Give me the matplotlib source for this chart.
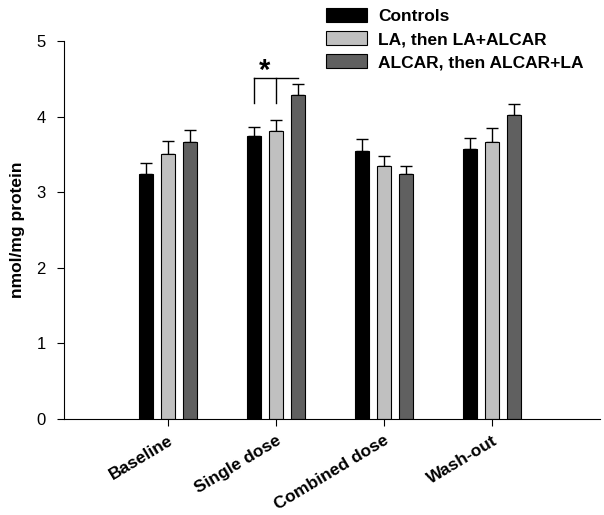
import numpy as np
import matplotlib
matplotlib.use('Agg')
import matplotlib.pyplot as plt

plt.rcParams['font.family'] = ['Liberation Sans', 'DejaVu Sans']

# data
groups = ['Baseline', 'Single dose', 'Combined dose', 'Wash-out']
series = ['Controls', 'LA, then LA+ALCAR', 'ALCAR, then ALCAR+LA']
controls = [3.24, 3.74, 3.54, 3.57]
controls_err = [0.15, 0.12, 0.16, 0.15]
la_first = [3.51, 3.81, 3.35, 3.66]
la_first_err = [0.17, 0.15, 0.13, 0.19]
alcar_first = [3.66, 4.29, 3.24, 4.02]
alcar_first_err = [0.16, 0.14, 0.11, 0.15]

values = [controls, la_first, alcar_first]
errors = [controls_err, la_first_err, alcar_first_err]
colors = ['#000000', '#c0c0c0', '#606060']

fig = plt.figure(figsize=(6.04, 5.15), dpi=100)
ax = fig.add_axes([64/604, 1-419/515, (600-64)/604, (419-41)/515])

x = np.arange(len(groups))
width = 0.13
step = 0.204
for i in range(3):
    pos = x + (i-1)*step
    err = np.array(errors[i])
    ax.bar(pos, values[i], width, color=colors[i], edgecolor='black',
           linewidth=0.8, label=series[i], zorder=2)
    ax.errorbar(pos, values[i], yerr=[np.zeros_like(err), err], fmt='none',
                ecolor='black', elinewidth=1, capsize=4.5, capthick=1, zorder=1)

# significance bracket over single dose
g = 1
ytop, ybot = 4.51, 4.18
ax.plot([g-step, g+step], [ytop, ytop], color='black', lw=1)
ax.plot([g-step, g-step], [ytop, ybot], color='black', lw=1)
ax.plot([g, g], [ytop, ybot], color='black', lw=1)
ax.text(g-step/2, 4.6, '*', ha='center', va='center', fontsize=21, fontweight='bold')

ax.set_xlim(-0.96, 4.0)
ax.set_ylim(0, 5)
ax.set_yticks([0, 1, 2, 3, 4, 5])
ax.set_xticks(x)
ax.set_xticklabels(groups, rotation=31, ha='right', rotation_mode='anchor',
                   fontsize=12.5, fontweight='bold')
ax.tick_params(axis='y', labelsize=12, direction='out', length=5, pad=8)
ax.tick_params(axis='x', direction='out', length=5, pad=5)
ax.spines['top'].set_visible(False)
ax.spines['right'].set_visible(False)
ax.set_ylabel('nmol/mg protein', fontsize=12.5, fontweight='bold', labelpad=8)

leg = ax.legend(loc='upper left', bbox_to_anchor=(318/604, 1.0),
                bbox_transform=fig.transFigure, frameon=False,
                handlelength=2.4, handleheight=0.9, labelspacing=0.4,
                handletextpad=0.6, borderaxespad=0.05,
                prop={'size': 12.5, 'weight': 'bold'})

fig.savefig('out.png', dpi=100)
